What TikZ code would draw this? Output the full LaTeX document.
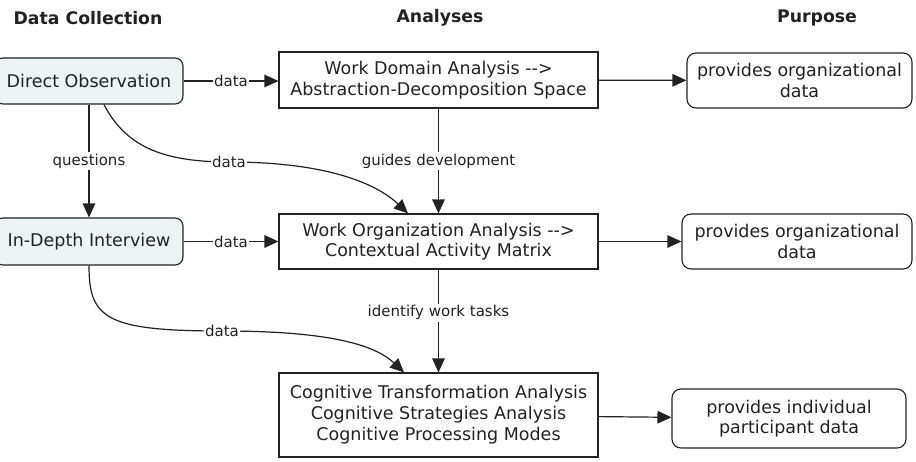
\documentclass[tikz,border=0pt]{standalone}
\usepackage{fontspec}
\setmainfont{DejaVu Sans}
\usetikzlibrary{arrows.meta,positioning}
\usepackage{xcolor}
\definecolor{PaleBlue}{HTML}{EDF4F6}
\definecolor{Ink}{HTML}{222222}

\begin{document}
\begin{tikzpicture}[x=1pt,y=-1pt,
    every node/.style={font=\fontsize{17.5}{20.5}\selectfont,text=Ink},
    head/.style={font=\bfseries\fontsize{17.3}{20}\selectfont},
    src/.style={draw=Ink,fill=PaleBlue,rounded corners=8pt,line width=1.1pt,
      minimum width=188pt,minimum height=46pt},
    ana/.style={draw=Ink,line width=1.1pt,align=center,minimum width=319pt},
    pur/.style={draw=Ink,line width=1.1pt,rounded corners=9pt,align=center,
      minimum height=55pt},
    lbl/.style={font=\fontsize{15}{17}\selectfont,fill=white,inner sep=1.5pt},
    arr/.style={-{Triangle[length=14pt,width=12.5pt]},line width=1.2pt,draw=Ink}]
    \useasboundingbox (0,0) rectangle (916,462);

    % column headings
    \node[head] (hcol) at (88,18) {Data Collection};
    \node[head] (hana) at (440,18) {Analyses};
    \node[head] (hpur) at (817,18) {Purpose};

    % data collection
    \node[src] (obs) at (89,81) {Direct Observation};
    \node[src,minimum height=47pt] (idi) at (89,241.5) {In-Depth Interview};

    % analyses
    \node[ana,minimum height=56pt] (wda) at (438.5,80)
      {Work Domain Analysis -{}->\\Abstraction-Decomposition Space};
    \node[ana,minimum height=55pt] (woa) at (438.5,241.5)
      {Work Organization Analysis -{}->\\Contextual Activity Matrix};
    \node[ana,minimum height=84pt,font=\fontsize{17.5}{21}\selectfont] (cta) at (438.5,415)
      {Cognitive Transformation Analysis\\Cognitive Strategies Analysis\\Cognitive Processing Modes};

    % purpose
    \node[pur,minimum width=225pt] (orgA) at (799.5,80.5) {provides organizational\\data};
    \node[pur,minimum width=230pt] (orgB) at (797,241.5) {provides organizational\\data};
    \node[pur,minimum width=234pt,minimum height=59pt] (indiv) at (789,418.5)
      {provides individual\\participant data};

    % straight connectors
    \draw[arr] (obs.east) -- node[lbl]{data} (obs.east -| wda.west);
    \draw[arr] (idi.east) -- node[lbl]{data} (idi.east -| woa.west);
    \draw[arr] (obs) -- node[lbl]{questions} (idi);
    \draw[arr] (wda) -- node[lbl]{guides development} (woa);
    \draw[arr] (woa) -- node[lbl,pos=0.42]{identify work tasks} (cta);
    \draw[arr] (wda) -- (orgA);
    \draw[arr] (woa) -- (orgB);
    \draw[arr] (cta) -- (indiv);

    % curved data connectors
    \draw[arr] ([xshift=15pt]obs.south) .. controls (125,145) and (160,162) .. (229,162)
      node[lbl]{data} .. controls (330,162) and (378,185) .. ([xshift=-30.5pt]woa.north);
    \draw[arr] (idi.south) .. controls (89,318) and (105,331) .. (222,331)
      node[lbl]{data} .. controls (330,331) and (375,345) .. ([xshift=-34.5pt]cta.north);
\end{tikzpicture}
\end{document}
